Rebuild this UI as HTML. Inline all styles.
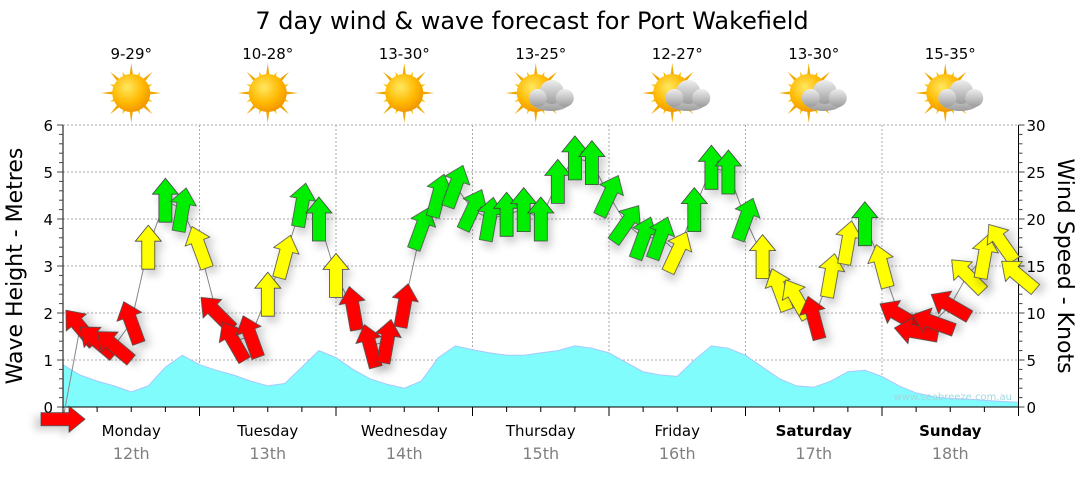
<!DOCTYPE html>
<html><head><meta charset="utf-8">
<style>
body{margin:0;background:#fff;width:1080px;height:475px;overflow:hidden;font-family:"Liberation Sans",Verdana,sans-serif}
svg text{font-family:"DejaVu Sans","Liberation Sans",sans-serif}
</style></head>
<body>
<svg id="chart" width="1080" height="475" viewBox="0 0 1080 475" xmlns="http://www.w3.org/2000/svg">
<defs>
<radialGradient id="sunG" cx="0.4" cy="0.35" r="0.7"><stop offset="0" stop-color="#ffe860"/><stop offset="0.6" stop-color="#ffb800"/><stop offset="1" stop-color="#f09000"/></radialGradient>
<linearGradient id="cloudG" x1="0" y1="0" x2="0" y2="1"><stop offset="0" stop-color="#eeeeee"/><stop offset="1" stop-color="#9c9c9c"/></linearGradient>
<filter id="sh" x="-50%" y="-50%" width="200%" height="200%"><feDropShadow dx="4" dy="6" stdDeviation="4" flood-color="#000" flood-opacity="0.18"/></filter>
</defs>
<text x="532" y="29" font-size="24" text-anchor="middle" fill="#000">7 day wind &amp; wave forecast for Port Wakefield</text>
<g id="topG"></g>
<g id="gridG"></g>
<g id="waveG"></g>
<g id="axesG"></g>
<text x="1012" y="400" font-size="10" text-anchor="end" fill="#9fd8e0">www.seabreeze.com.au</text>
<g id="windG"></g>
<text transform="translate(22,266) rotate(-90)" font-size="22" text-anchor="middle">Wave Height - Metres</text>
<text transform="translate(1058,266) rotate(90)" font-size="22" text-anchor="middle">Wind Speed - Knots</text>
</svg>
<script>
const days=["Monday","Tuesday","Wednesday","Thursday","Friday","Saturday","Sunday"];
const dates=["12th","13th","14th","15th","16th","17th","18th"];
const temps=["9-29°","10-28°","13-30°","13-25°","12-27°","13-30°","15-35°"];
const cloudy=[false,false,false,true,true,true,true];
const waveM=[0.9,0.68,0.55,0.45,0.32,0.45,0.85,1.1,0.9, 0.78,0.68,0.55,0.45,0.5,0.85,1.2,1.05, 0.8,0.6,0.48,0.4,0.55,1.05,1.3,1.22, 1.15,1.1,1.1,1.15,1.2,1.3,1.25,1.15, 0.95,0.75,0.68,0.65,1.0,1.3,1.25,1.1, 0.85,0.6,0.45,0.42,0.55,0.75,0.78,0.65, 0.45,0.3,0.22,0.18,0.17,0.14,0.12,0.1];
const windKn=[-1.3,8.5,7,6.5,9,17,22,21,17, 10,7,7.5,12,16,21.5,20,14, 10.5,6.5,7,10.8,19,22.5,23.5,21, 20,20.5,21,20,24,26.5,26,22.5, 19.5,18,18,16.5,21,25.5,25,20, 16,12.5,11.5,9.5,14,17.5,19.5,15, 9.8,8,9,10.8,14,16,17.5,14];
const windDir=[90,-40,-50,-50,-20,0,0,10,-20, -45,-30,-20,0,15,10,0,0, -10,-15,10,10,20,15,20,25, 10,0,0,0,0,0,0,25, 35,20,20,25,0,0,0,20, 0,-20,-30,-15,10,10,0,-15, -60,-80,-70,-60,-45,10,-35,-50];
const waveTicks=[0,1,2,3,4,5,6];
const knotTicks=[0,5,10,15,20,25,30];

const NS="http://www.w3.org/2000/svg";
const X0=63,X1=1018.5,Y0=407,Y6=125;
const xT=i=>X0+(X1-X0)*i/56;
const yM=m=>Y0-(Y0-Y6)*m/6;
const yK=k=>Y0-(Y0-Y6)*k/30;
function el(tag,attrs,parent){const e=document.createElementNS(NS,tag);for(const k in attrs)e.setAttribute(k,attrs[k]);parent.appendChild(e);return e;}
const topG=document.getElementById('topG'),gridG=document.getElementById('gridG'),waveG=document.getElementById('waveG'),axesG=document.getElementById('axesG'),windG=document.getElementById('windG');

days.forEach((d,i)=>{
  const cx=X0+(X1-X0)*(i+0.5)/7;
  const t=el('text',{x:cx,y:59,'font-size':15,'text-anchor':'middle'},topG);t.textContent=temps[i];
  
  
  const g=el('g',{},topG);
  
  
  const sx=cx-(cloudy[i]?5:0),sy=93;
  for(let r=0;r<16;r++){const a=r*Math.PI/8,L=r%2?23:30;
    const p=[[sx+Math.cos(a)*L,sy+Math.sin(a)*L],[sx+Math.cos(a+0.12)*16,sy+Math.sin(a+0.12)*16],[sx+Math.cos(a-0.12)*16,sy+Math.sin(a-0.12)*16]];
    el('polygon',{points:p.map(q=>q.join(',')).join(' '),fill:r%2?'#f6c000':'#f0a800'},g);}
  el('circle',{cx:sx,cy:sy,r:19,fill:'url(#sunG)'},g);
  if(cloudy[i]){
    const cg=el('g',{fill:'url(#cloudG)'},g);
    el('ellipse',{cx:cx+10,cy:sy+8,rx:20,ry:10},cg);
    el('circle',{cx:cx+11,cy:sy-1,r:12},cg);
    el('circle',{cx:cx-3,cy:sy+5,r:9},cg);
    el('circle',{cx:cx+24,cy:sy+5,r:9},cg);
  }
  const dl=el('text',{x:cx,y:436,'font-size':15,'text-anchor':'middle','font-weight':i>=5?'bold':'normal'},axesG);dl.textContent=d;
  
  
  const dt=el('text',{x:cx,y:459,'font-size':16,'text-anchor':'middle',fill:'#808080'},axesG);dt.textContent=dates[i];
  
  
});

for(let i=1;i<7;i++){const x=X0+(X1-X0)*i/7;const l=el('line',{x1:x,x2:x,y1:Y6,y2:Y0,stroke:'#aaa','stroke-dasharray':'2,2'},gridG);
  
  }
waveTicks.forEach(m=>{if(m===0)return;const y=yM(m);const l=el('line',{x1:X0,x2:X1,y1:y,y2:y,stroke:'#aaa','stroke-dasharray':'2,2'},gridG);
  
  });

let d='M'+xT(0)+','+Y0;
waveM.forEach((m,i)=>{d+=' L'+xT(i).toFixed(1)+','+yM(m).toFixed(1);});
d+=' L'+xT(56)+','+Y0+' Z';
const wa=el('path',{d:d,fill:'#80fcfc',stroke:'#a8c8ff','stroke-width':1},waveG);



el('line',{x1:X0,x2:X0,y1:Y6,y2:Y0,stroke:'#000'},axesG);
el('line',{x1:X1,x2:X1,y1:Y6,y2:Y0,stroke:'#000'},axesG);
el('line',{x1:X0,x2:X1,y1:Y0,y2:Y0,stroke:'#000'},axesG);
for(let k=0;k<=30;k++){const y=yK(k),maj=k%5===0;
  el('line',{x1:X0-(maj?6:4),x2:X0,y1:y,y2:y,stroke:'#444'},axesG);
  el('line',{x1:X1,x2:X1+(maj?6:4),y1:y,y2:y,stroke:'#444'},axesG);}
waveTicks.forEach(m=>{const t=el('text',{x:X0-10,y:yM(m)+6,'font-size':15,'text-anchor':'end'},axesG);t.textContent=m;
  
  });
knotTicks.forEach(k=>{const t=el('text',{x:X1+8,y:yK(k)+6,'font-size':15},axesG);t.textContent=k;
  
  });
for(let i=0;i<=28;i++){const x=X0+(X1-X0)*i/28;const maj=i%4===0;
  el('line',{x1:x,x2:x,y1:Y0,y2:Y0+(maj?9:5),stroke:'#000'},axesG);}

let ld='';windKn.forEach((k,i)=>{ld+=(i?' L':'M')+xT(i).toFixed(1)+','+yK(k).toFixed(1);});
el('path',{d:ld,fill:'none',stroke:'#888','stroke-width':1},windG);
const arrowPts="0,-22 13,-6 6.5,-6 6.5,22 -6.5,22 -6.5,-6 -13,-6";
windKn.forEach((k,i)=>{
  const col=k<11?'#ff0000':(k<18?'#ffff00':'#00ee00');
  const a=el('polygon',{points:arrowPts,fill:col,stroke:'#444','stroke-width':0.8,filter:'url(#sh)',
    transform:'translate('+xT(i).toFixed(1)+','+yK(k).toFixed(1)+') rotate('+windDir[i]+')'},windG);
  
  
});
</script>
</body></html>
